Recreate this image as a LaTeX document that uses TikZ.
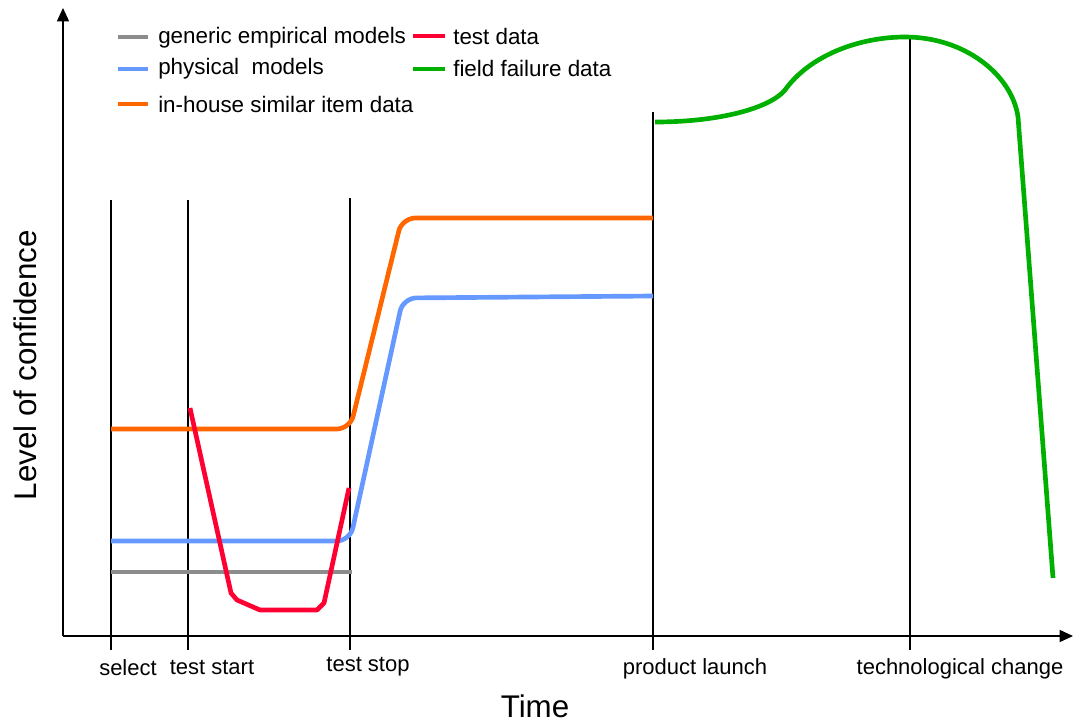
\documentclass[tikz,border=0pt]{standalone}
\usepackage{fontspec}
\setmainfont{Liberation Sans}
\usetikzlibrary{arrows.meta}
\definecolor{cgray}{HTML}{8C8C8C}
\definecolor{cblue}{HTML}{6699FF}
\definecolor{corange}{HTML}{FF6600}
\definecolor{cred}{HTML}{FF0033}
\definecolor{cgreen}{HTML}{00B000}
\begin{document}
\begin{tikzpicture}[x=0.75pt,y=-0.75pt,
  axis/.style={line width=1.1pt,-{Triangle[length=10pt,width=9pt]}},
  vline/.style={line width=0.8pt},
  curve/.style={line width=3.5pt,line join=round},
  lbl/.style={font=\fontsize{16.5}{18}\selectfont,inner sep=0pt,anchor=center},
  leg/.style={font=\fontsize{16.8}{18}\selectfont,inner sep=0pt,anchor=west}]
\useasboundingbox (0,0) rectangle (1073,725);
% axes
\coordinate (O) at (63,636);
\coordinate (ytop) at (63,8);
\coordinate (xend) at (1073,636);
\draw[axis] (O) -- (ytop);
\draw[axis] (O) -- (xend);
% vertical markers
\coordinate (s1) at (111,200); \coordinate (s2) at (111,650);
\coordinate (t1) at (188,200); \coordinate (t2) at (188,650);
\coordinate (u1) at (350,198); \coordinate (u2) at (350,650);
\coordinate (p1) at (653,112); \coordinate (p2) at (653,650);
\coordinate (c1) at (910,37);  \coordinate (c2) at (910,650);
\draw[vline] (s1) -- (s2);
\draw[vline] (t1) -- (t2);
\draw[vline] (u1) -- (u2);
\draw[vline] (p1) -- (p2);
\draw[vline] (c1) -- (c2);
% labels
\node[lbl] (lsel) at (128,668) {select};
\node[lbl] (lts) at (212,667) {test start};
\node[lbl] (ltp) at (368,667) {test stop};
\node[lbl] (lpl) at (695,669) {product launch};
\node[lbl] (ltc) at (960,669) {technological change};
\node[font=\fontsize{23.5}{28}\selectfont,inner sep=0pt] (ltime) at (535,706) {Time};
\node[font=\fontsize{23.5}{28}\selectfont,inner sep=0pt,rotate=90] (lconf) at (25,365) {Level of confidence};
% curves
\draw[curve,cgray] (111,572) -- (352,572);
\draw[curve,cblue,rounded corners=10pt] (111,541) -- (350,541) -- (403,298) -- (653,296);
\draw[curve,corange,rounded corners=10pt] (111,429) -- (350,429) -- (402,218) -- (653,218);
\draw[curve,cred] (190,408) -- (231,593) -- (237,600) -- (260,610) -- (317,610) -- (324,603) -- (349,488);
\draw[curve,cgreen] (655,122) .. controls (720,122) and (770,108) .. (785,90)
  .. controls (810,55) and (860,37) .. (905,37)
  .. controls (965,37) and (1012,75) .. (1018,117) -- (1053,578);
% legend
\draw[curve,cgray] (118,37) -- (148,37);
\node[leg] (lg1) at (158,38) {generic empirical models};
\draw[curve,cblue] (118,69) -- (148,69);
\node[leg] (lg2) at (158,69) {physical\ \ models};
\draw[curve,corange] (118,104) -- (148,104);
\node[leg] (lg3) at (158,104) {in-house similar item data};
\draw[curve,cred] (413,36) -- (445,36);
\node[leg] (lg4) at (453,36) {test data};
\draw[curve,cgreen] (413,69) -- (445,69);
\node[leg] (lg5) at (453,68) {field failure data};
\end{tikzpicture}
\end{document}
